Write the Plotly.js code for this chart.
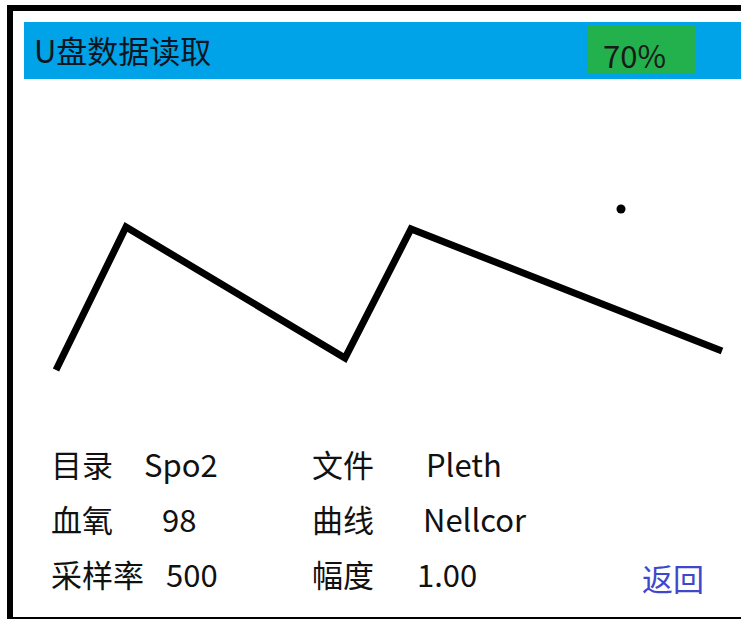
<!DOCTYPE html>
<html>
<head>
<meta charset="utf-8">
<script src="https://cdn.plot.ly/plotly-3.0.1.min.js"></script>
<style>html,body{margin:0;padding:0;background:#fff;}#chart{width:741px;height:619px;}</style>
</head>
<body>
<div id="chart"></div>
<script>
// ---- data ----
var waveX = [56, 126, 345, 411, 722];
var waveY = [370, 227, 358, 229, 351];
var dotX = [621];
var dotY = [209];
var headerTitle = 'U盘数据读取';
var progressText = '70%';
var fieldLabels = ['目录', '血氧', '采样率', '文件', '曲线', '幅度'];
var fieldValues = ['Spo2', '98', '500', 'Pleth', 'Nellcor', '1.00'];
var backText = '返回';

// ---- layout / positions ----
var FONT = '"Noto Sans CJK SC", "Noto Sans", sans-serif';
var labelX = [49, 49, 49, 310, 310, 310];
var valueX = [142, 160, 164, 424, 421, 415];
var rowY = [463, 518, 573, 463, 518, 573];

var traces = [
  {x: waveX, y: waveY, mode: 'lines', type: 'scatter',
   line: {color: '#000', width: 7, shape: 'linear'}, hoverinfo: 'skip'},
  {x: dotX, y: dotY, mode: 'markers', type: 'scatter',
   marker: {color: '#000', size: 9}, hoverinfo: 'skip'}
];

var annotations = [
  {x: 32, y: 49, text: headerTitle, font: {family: FONT, size: 31, color: '#0d1520'}},
  {x: 601, y: 54, text: progressText, font: {family: FONT, size: 31, color: '#1a1a1a'}},
  {x: 640, y: 577, text: backText, font: {family: FONT, size: 31, color: '#3f48cc'}}
];
for (var i = 0; i < fieldLabels.length; i++) {
  annotations.push({x: labelX[i], y: rowY[i], text: fieldLabels[i],
    font: {family: FONT, size: 31, color: '#111'}});
  annotations.push({x: valueX[i], y: rowY[i], text: fieldValues[i],
    font: {family: FONT, size: 31, color: '#111'}});
}
annotations.forEach(function (a) {
  a.xref = 'x'; a.yref = 'y'; a.xanchor = 'left'; a.yanchor = 'middle';
  a.showarrow = false;
});

var shapes = [
  // outer frame
  {type: 'rect', xref: 'x', yref: 'y', x0: 10, y0: 8, x1: 780, y1: 620,
   line: {color: '#000', width: 6}, fillcolor: 'rgba(0,0,0,0)', layer: 'below'},
  // header bar
  {type: 'rect', xref: 'x', yref: 'y', x0: 24, y0: 22, x1: 741, y1: 79,
   line: {width: 0}, fillcolor: '#00a2e8', layer: 'below'},
  // progress box
  {type: 'rect', xref: 'x', yref: 'y', x0: 588, y0: 25, x1: 696, y1: 73,
   line: {width: 0}, fillcolor: '#22b14c', layer: 'below'}
];

var layout = {
  width: 741, height: 619,
  margin: {l: 0, r: 0, t: 0, b: 0, pad: 0},
  paper_bgcolor: '#fff', plot_bgcolor: '#fff',
  showlegend: false,
  xaxis: {range: [0, 741], visible: false, fixedrange: true},
  yaxis: {range: [619, 0], visible: false, fixedrange: true},
  shapes: shapes,
  annotations: annotations
};

Plotly.newPlot('chart', traces, layout, {displayModeBar: false, staticPlot: true});
</script>
</body>
</html>
